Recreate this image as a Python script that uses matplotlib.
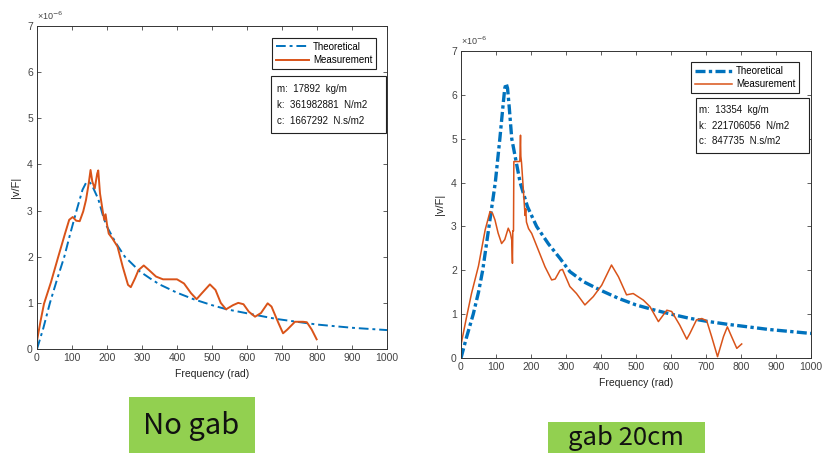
import matplotlib
matplotlib.use("Agg")
import matplotlib.pyplot as plt
from matplotlib.patches import Rectangle

plt.rcParams['font.family'] = ['Liberation Sans', 'DejaVu Sans']
plt.rcParams['lines.solid_joinstyle'] = 'round'

# ---------------- data (values in units of 1e-6) ----------------
# Left panel: "No gab"
left_theo_f = [0, 18, 37, 57, 78, 95, 113, 130, 140, 146, 152, 160, 175, 190, 200, 225, 251, 294,
               323, 350, 400, 447, 500, 542, 623, 685, 800, 900, 1000]
left_theo_v = [0, 0.45, 1.0, 1.5, 2.0, 2.5, 3.0, 3.45, 3.6, 3.63, 3.6, 3.5, 3.25, 2.85, 2.65, 2.3,
               2.0, 1.68, 1.53, 1.40, 1.22, 1.08, 0.95, 0.86, 0.74, 0.65, 0.53, 0.46, 0.41]
left_meas_f = [0, 10, 20, 40, 60, 80, 92, 102, 112, 122, 132, 140, 148, 153, 158, 165, 172, 175, 180,
               188, 192, 196, 200, 205, 215, 230, 245, 260, 268, 280, 290, 305, 320, 340, 360, 380,
               400, 420, 440, 456, 470, 494, 510, 525, 540, 560, 575, 590, 605, 623, 640, 659, 670,
               690, 703, 715, 737, 760, 771, 785, 799]
left_meas_v = [0.18, 0.6, 0.98, 1.45, 1.98, 2.5, 2.8, 2.86, 2.78, 2.77, 2.98, 3.23, 3.6, 3.88, 3.63,
               3.48, 3.8, 3.87, 3.37, 2.98, 2.8, 2.92, 2.7, 2.5, 2.4, 2.22, 1.78, 1.39, 1.34, 1.53,
               1.71, 1.81, 1.71, 1.57, 1.51, 1.51, 1.51, 1.42, 1.21, 1.08, 1.2, 1.40, 1.28, 1.0, 0.86,
               0.95, 1.0, 0.97, 0.81, 0.70, 0.78, 0.99, 0.92, 0.56, 0.34, 0.42, 0.59, 0.59, 0.58,
               0.42, 0.21]
left_params = ["m:  17892  kg/m", "k:  361982881  N/m2", "c:  1667292  N.s/m2"]

# Right panel: "gab 20cm"
right_theo_f = [0, 15, 35, 50, 62, 80, 98, 111, 120, 125, 129, 133, 138, 145, 157, 169, 190, 216,
                250, 283, 311, 350, 400, 450, 500, 550, 600, 650, 700, 760, 800, 880, 1000]
right_theo_v = [0, 0.45, 1.0, 1.5, 2.0, 3.0, 4.0, 5.0, 5.75, 6.15, 6.26, 6.15, 5.7, 5.0, 4.5, 4.0,
                3.45, 3.0, 2.6, 2.27, 1.97, 1.74, 1.54, 1.36, 1.21, 1.1, 1.0, 0.91, 0.84, 0.77,
                0.73, 0.65, 0.56]
right_meas_f = [0, 15, 30, 50, 69, 83, 90, 97, 106, 116, 125, 135, 141, 145, 147, 148, 150, 151,
                168, 170, 171, 173, 178, 183, 185, 187, 193, 202, 221, 240, 259, 269, 283, 290, 311,
                330, 354, 378, 402, 430, 450, 473, 492, 521, 540, 564, 588, 602, 625, 645, 654, 673,
                688, 702, 716, 733, 750, 761, 773, 788, 802]
right_meas_v = [0.30, 0.9, 1.47, 2.1, 2.92, 3.34, 3.3, 3.15, 2.85, 2.61, 2.7, 2.96, 2.85, 2.69, 2.16,
                2.9, 2.9, 4.48, 4.48, 5.08, 4.6, 4.45, 3.85, 3.25, 3.4, 3.1, 2.95, 2.84, 2.46, 2.08,
                1.78, 1.8, 2.0, 2.02, 1.63, 1.47, 1.21, 1.40, 1.66, 2.12, 1.85, 1.44, 1.47, 1.32,
                1.17, 0.83, 1.09, 1.06, 0.75, 0.43, 0.56, 0.87, 0.90, 0.85, 0.49, 0.03, 0.49, 0.71,
                0.49, 0.22, 0.32]
right_params = ["m:  13354  kg/m", "k:  221706056  N/m2", "c:  847735  N.s/m2"]

x_ticks = [0, 100, 200, 300, 400, 500, 600, 700, 800, 900, 1000]
y_ticks = [0, 1, 2, 3, 4, 5, 6, 7]
panel_labels = ["No gab", "gab 20cm"]

BLUE = '#0072BD'
ORANGE = '#D95319'
TICKC = '#444444'

W, H = 824, 453
fig = plt.figure(figsize=(W / 100, H / 100), dpi=100)


def px_axes(x0, y0, x1, y1):
    return fig.add_axes([x0 / W, 1 - y1 / H, (x1 - x0) / W, (y1 - y0) / H])


def style(ax):
    ax.set_xlim(0, 1000)
    ax.set_ylim(0, 7)
    ax.set_xticks(x_ticks)
    ax.set_yticks(y_ticks)
    ax.tick_params(direction='in', top=True, right=True, length=3, width=0.6,
                   labelsize=7.5, colors=TICKC, labelcolor=TICKC, pad=3)
    for s in ax.spines.values():
        s.set_linewidth(0.7)
        s.set_color('#333333')
    ax.set_xlabel('Frequency (rad)', fontsize=7.5, color='#222222', labelpad=4)
    ax.set_ylabel('|v/F|', fontsize=8, color='#222222', labelpad=4)
    ax.text(0.0, 1.012, '×10$^{-6}$', transform=ax.transAxes, fontsize=6.5,
            color=TICKC, ha='left', va='bottom')


def info_box(ax, rect, lines, tx, tys):
    ax.add_patch(Rectangle((rect[0], rect[1]), rect[2], rect[3], transform=ax.transAxes,
                           facecolor='white', edgecolor='#222222', lw=0.8, zorder=5))
    for t, ty in zip(lines, tys):
        ax.text(tx, ty, t, transform=ax.transAxes, fontsize=7, color='#111111',
                va='center', ha='left', zorder=6)


# Left axes
ax1 = px_axes(37, 26, 387, 349)
style(ax1)
ax1.plot(left_theo_f, left_theo_v, color=BLUE, lw=1.4, ls=(0, (5, 2, 1.5, 2)),
         label='Theoretical')
ax1.plot(left_meas_f, left_meas_v, color=ORANGE, lw=1.4, label='Measurement')
leg1 = ax1.legend(loc='upper right', bbox_to_anchor=(0.969, 0.964), borderaxespad=0,
                  fontsize=7, handlelength=3.4, fancybox=False, framealpha=1,
                  edgecolor='#222222', borderpad=0.4, labelspacing=0.35, handletextpad=0.4)
leg1.get_frame().set_linewidth(0.8)
info_box(ax1, (0.669, 0.669, 0.328, 0.176), left_params, 0.686, [0.805, 0.755, 0.706])

# Right axes
ax2 = px_axes(461, 51, 811, 358)
style(ax2)
ax2.plot(right_theo_f, right_theo_v, color=BLUE, lw=2.4, ls=(0, (3, 1, 1, 1)),
         label='Theoretical')
ax2.plot(right_meas_f, right_meas_v, color=ORANGE, lw=1.1, label='Measurement')
leg2 = ax2.legend(loc='upper right', bbox_to_anchor=(0.966, 0.964), borderaxespad=0,
                  fontsize=7, handlelength=3.8, fancybox=False, framealpha=1,
                  edgecolor='#222222', borderpad=0.4, labelspacing=0.35, handletextpad=0.4)
leg2.get_frame().set_linewidth(0.8)
info_box(ax2, (0.671, 0.668, 0.323, 0.179), right_params, 0.681, [0.808, 0.757, 0.708])

# Green label boxes
GREEN = '#92D050'
for (x0, y0, x1, y1), lab in zip([(129, 397, 255, 453), (548, 422, 705, 453)], panel_labels):
    fig.patches.append(Rectangle((x0 / W, 1 - y1 / H), (x1 - x0) / W, (y1 - y0) / H,
                                 transform=fig.transFigure, facecolor=GREEN,
                                 edgecolor='none', zorder=1))
fig.text(191 / W, 1 - 426 / H, panel_labels[0], fontsize=21, ha='center', va='center',
         family=['Noto Sans CJK KR', 'DejaVu Sans'], color='#111111')
fig.text(626 / W, 1 - 445 / H, panel_labels[1], fontsize=18.5, ha='center', va='baseline',
         family=['Noto Sans CJK KR', 'DejaVu Sans'], color='#111111')

fig.savefig('out.png', dpi=100)
